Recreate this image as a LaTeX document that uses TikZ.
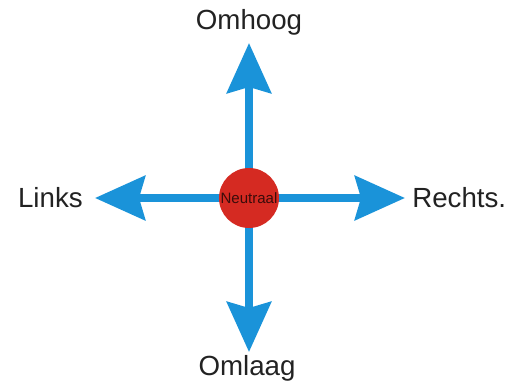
\documentclass[tikz,border=0pt]{standalone}
\usepackage{fontspec}
\setmainfont{Liberation Sans}
\usetikzlibrary{arrows.meta,positioning}
\definecolor{SkyBlue}{HTML}{1A93D9}
\definecolor{Signal}{HTML}{D52A22}
\definecolor{Ink}{HTML}{222222}
\definecolor{DarkInk}{HTML}{3A0C0A}
\tikzset{richting/.style={draw=SkyBlue,line width=0.2cm,-{Stealth[length=1.25cm,width=1.1cm,inset=0.15cm]}},kern/.style={circle,fill=Signal,minimum size=1.5cm,inner sep=0pt,text=DarkInk,font=\fontsize{10.7}{12}\selectfont},woord/.style={text=Ink,font=\fontsize{19.7}{24}\selectfont,inner sep=0pt}}

\begin{document}
\begin{tikzpicture}
\useasboundingbox (-6.225,-4.625) rectangle (6.675,4.95);
\coordinate (midden) at (0,0);
\coordinate (boven) at (0,3.875);
\coordinate (onder) at (0,-3.85);
\coordinate (links) at (-3.85,0);
\coordinate (rechts) at (3.9,0);
\draw[richting] (midden) -- (boven);
\draw[richting] (midden) -- (onder);
\draw[richting] (midden) -- (links);
\draw[richting] (midden) -- (rechts);
\node[kern] (neutraal) at (midden) {Neutraal};
\node[woord] (omhoog) at (0,4.4) {Omhoog};
\node[woord,anchor=east] (linkswoord) at (-4.15,0) {Links};
\node[woord,anchor=west] (rechtswoord) at (4.075,0) {Rechts.};
\node[woord] (omlaag) at (-0.05,-4.25) {Omlaag};
\end{tikzpicture}
\end{document}
